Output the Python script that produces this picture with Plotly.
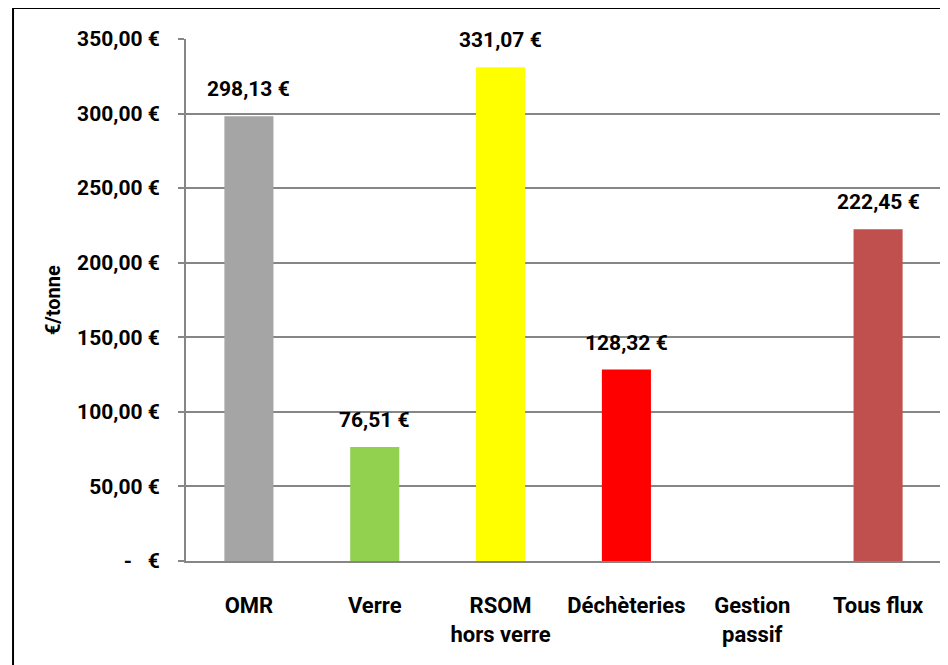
import plotly.graph_objects as go

categories = ["OMR", "Verre", "RSOM<br>hors verre", "Déchèteries", "Gestion<br>passif", "Tous flux"]
values = [298.13, 76.51, 331.07, 128.32, None, 222.45]
colors = ["#A5A5A5", "#92D050", "#FFFF00", "#FF0000", "#C0504D", "#C0504D"]
tick_vals = [0, 50, 100, 150, 200, 250, 300, 350]
tick_text = ["-\u00a0\u00a0\u00a0€", "50,00 €", "100,00 €", "150,00 €", "200,00 €", "250,00 €", "300,00 €", "350,00 €"]
labels = [None if v is None else f"{v:.2f}".replace(".", ",") + " €" for v in values]

FONT = "Roboto, Liberation Sans, sans-serif"

fig = go.Figure()
fig.add_trace(go.Bar(
    x=categories, y=values, marker=dict(color=colors, line=dict(width=0)),
    showlegend=False, hoverinfo="skip",
))

for c, v, t in zip(categories, values, labels):
    if v is None:
        continue
    fig.add_annotation(x=c, y=v, text=f"<b>{t}</b>", showarrow=False,
                       yanchor="bottom", yshift=13,
                       font=dict(family=FONT, size=21, color="black"))

fig.add_annotation(xref="paper", yref="paper", x=-0.176, y=0.5, text="<b>€/tonne</b>",
                   textangle=-90, showarrow=False, xanchor="center", yanchor="middle",
                   font=dict(family=FONT, size=20, color="black"))

# outer border (top and left visible)
fig.add_shape(type="line", xref="paper", yref="paper", x0=-0.2291, x1=1.05, y0=1.0594, y1=1.0594,
              line=dict(color="black", width=2))
fig.add_shape(type="line", xref="paper", yref="paper", x0=-0.2291, x1=-0.2291, y0=-0.25, y1=1.0594,
              line=dict(color="black", width=2))

fig.update_layout(
    width=940, height=657,
    margin=dict(l=178, r=7, t=31, b=104),
    paper_bgcolor="white", plot_bgcolor="white",
    bargap=0.61,
    font=dict(family=FONT, size=20, color="black"),
    xaxis=dict(
        type="category", showgrid=False, showline=True, linecolor="#868686", linewidth=2,
        ticks="", ticklabelstandoff=24,
        tickfont=dict(family=FONT, size=22, color="black", weight="bold"),
        fixedrange=True,
    ),
    yaxis=dict(
        range=[0, 350], tickvals=tick_vals, ticktext=tick_text,
        showgrid=True, gridcolor="#868686", gridwidth=2,
        showline=True, linecolor="#868686", linewidth=2,
        ticks="outside", ticklen=6, tickcolor="#868686", tickwidth=2,
        ticklabelstandoff=14, zeroline=False,
        tickfont=dict(family=FONT, size=21, color="black", weight="bold"),
        fixedrange=True,
    ),
)

fig.write_html("out.html")
